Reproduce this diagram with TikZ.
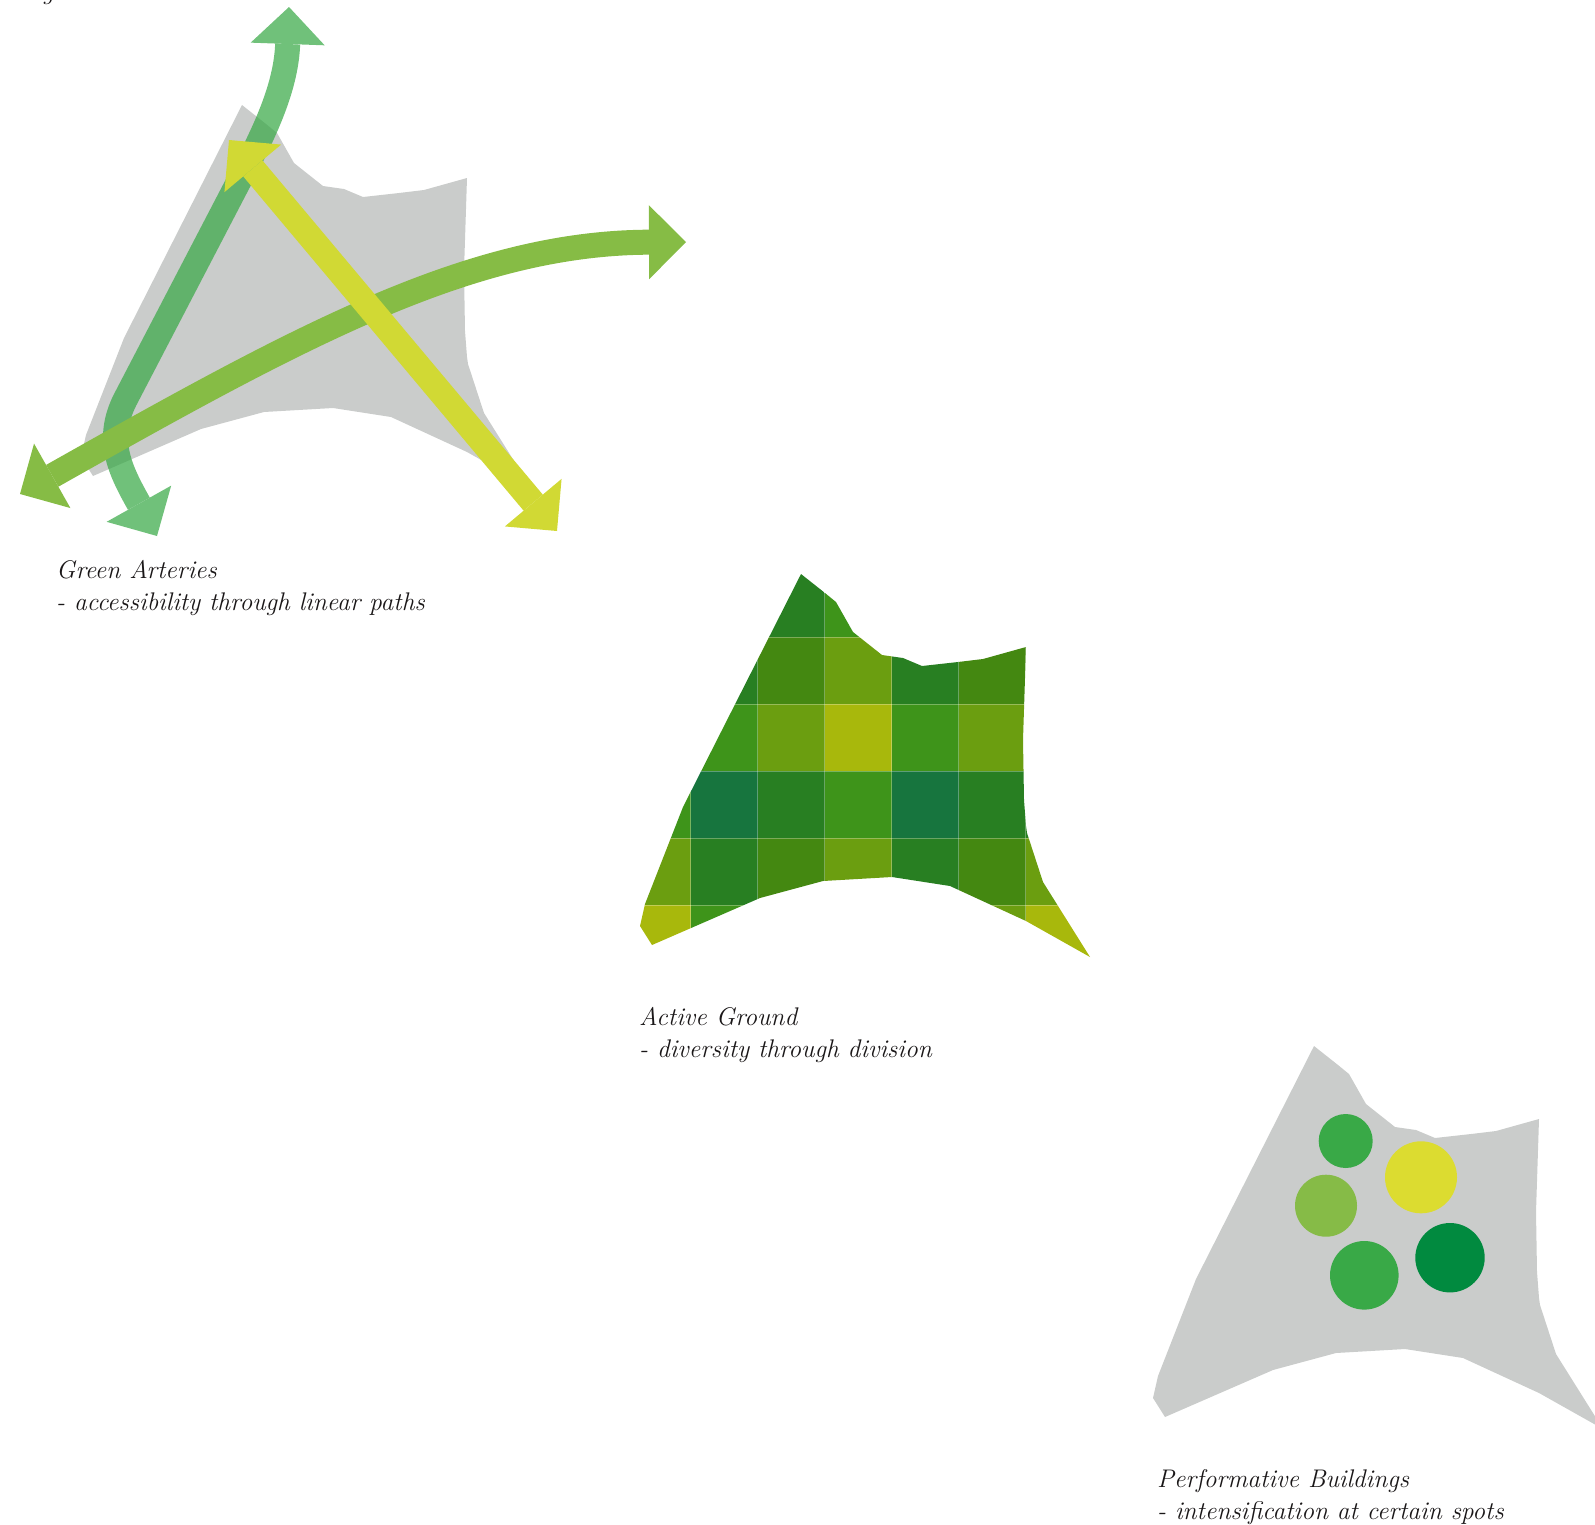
\documentclass[tikz,border=0pt]{standalone}
\usepackage{tikz}
\usetikzlibrary{arrows.meta}

\definecolor{siteGray}{HTML}{CACCCB}
\definecolor{captionInk}{HTML}{1A1718}
\definecolor{arteryGreen}{HTML}{39A947}
\definecolor{arteryOlive}{HTML}{86BC45}
\definecolor{arteryYellow}{HTML}{D1D934}
\definecolor{gA}{HTML}{287F22}
\definecolor{gB}{HTML}{3E941A}
\definecolor{gC}{HTML}{448811}
\definecolor{gD}{HTML}{6B9E10}
\definecolor{gE}{HTML}{A8B80C}
\definecolor{gF}{HTML}{17753E}
\definecolor{gY}{HTML}{D2DA36}
\definecolor{bldGreen}{HTML}{39A947}
\definecolor{bldYellow}{HTML}{DCDC30}
\definecolor{bldOlive}{HTML}{86BB47}
\definecolor{bldDark}{HTML}{018A3F}

% site outline, relative to its top corner
\newcommand{\siteOutline}{(0,0) -- (24,19) -- (35,28) -- (52,58) -- (81,81)
  -- (102,84) -- (121,92) -- (157,88) -- (182,85) -- (225,73) -- (222,166)
  -- (223,226) -- (225,252) -- (226,259) -- (242,308) -- (289,383)
  -- (225,347) -- (149,312) -- (91,303) -- (22,307) -- (-41,324)
  -- (-149,371) -- (-161,352) -- (-156,330) -- (-118,233) -- cycle}

\tikzset{
  caption/.style={font=\fontsize{25.5}{32}\selectfont\itshape, text=captionInk,
    align=left, inner sep=0pt},
  flow/.style={line width=25pt,
    {Triangle[length=37pt,width=74pt,line width=0pt]}-{Triangle[length=37pt,width=74pt,line width=0pt]}},
  gridline/.style={white, opacity=0.3, line width=0.8pt},
}

\begin{document}
\begin{tikzpicture}[x=1pt, y=-1pt]

  \useasboundingbox (0,0) rectangle (1595,1524);

  % cut-off heading
  \node[caption, anchor=base] (cutoff) at (48,-1) {g};

  % -------------------------------------------------------
  % Green Arteries
  % -------------------------------------------------------
  \fill[siteGray, shift={(242,105)}] \siteOutline;

  \coordinate (greenS) at (157,536);
  \coordinate (greenN) at (289,7);
  \coordinate (oliveW) at (20,494);
  \coordinate (oliveE) at (686,242);
  \coordinate (yellowN) at (229,140);
  \coordinate (yellowS) at (557,531);

  \begin{scope}[transparency group, opacity=0.72]
    \draw[flow, arteryGreen] (greenS) .. controls (120,470) and (105,440) .. (125,400)
      -- (238,183) .. controls (262,137) and (286,90) .. (greenN);
  \end{scope}
  \draw[flow, arteryOlive] (oliveW) .. controls (300,336) and (470,243) .. (oliveE);
  \draw[flow, arteryYellow] (yellowN) -- (yellowS);

  \node[caption, anchor=north west] (arteries) at (56,560)
    {Green Arteries\\- accessibility through linear paths};

  % -------------------------------------------------------
  % Active Ground (grid of 67 x 67 cells)
  % -------------------------------------------------------
  \begin{scope}
    \clip[shift={(801,574)}] \siteOutline;
    \foreach \r/\cells in {0/{none,none,gA,gB,none,none,none},
                           1/{none,gA,gC,gD,gA,gC,gY},
                           2/{gB,gB,gD,gE,gB,gD,gD},
                           3/{gB,gF,gA,gB,gF,gA,gA},
                           4/{gD,gA,gC,gD,gA,gC,gD},
                           5/{gE,gB,gC,gD,gA,gD,gE}}
      \foreach \c [count=\i from 0] in \cells
        \path[fill=\c] ({623.7+67*\i},{570.3+67*\r}) rectangle +(67,67);
    \foreach \i in {1,...,6}
      \draw[gridline] ({623.7+67*\i},570.3) -- +(0,402);
    \foreach \r in {1,...,5}
      \draw[gridline] (623.7,{570.3+67*\r}) -- +(469,0);
  \end{scope}

  \node[caption, anchor=north west] (ground) at (639,1007)
    {Active Ground\\- diversity through division};

  % -------------------------------------------------------
  % Performative Buildings
  % -------------------------------------------------------
  \fill[siteGray, shift={(1314,1046)}] \siteOutline;

  \fill[bldGreen]  (1345.7,1141)   circle (27pt);
  \fill[bldYellow] (1421,1177.3)   circle (36pt);
  \fill[bldOlive]  (1326,1205.7)   circle (31pt);
  \fill[bldGreen]  (1364.3,1275.3) circle (34.3pt);
  \fill[bldDark]   (1450,1257.7)   circle (34.7pt);

  \node[caption, anchor=north west] (buildings) at (1157,1469)
    {Performative Buildings\\- intensification at certain spots};

\end{tikzpicture}
\end{document}
